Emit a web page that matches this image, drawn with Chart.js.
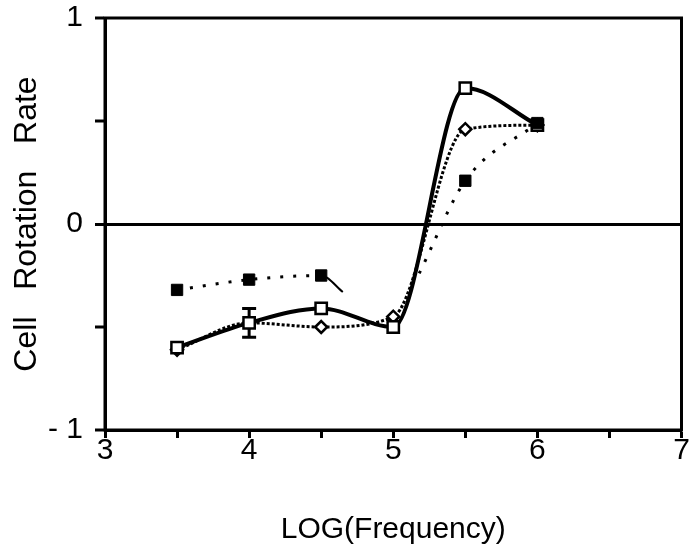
<!DOCTYPE html>
<html>
<head>
<meta charset="utf-8">
<script src="https://cdn.jsdelivr.net/npm/chart.js@4"></script>
<style>
  html, body { margin: 0; padding: 0; background: #fff; }
  #wrap { width: 692px; height: 559px; }
</style>
</head>
<body>
<div id="wrap"><canvas id="chart" width="692" height="559"></canvas></div>
<script>
// 측정 주파수 (log10)
const logFreq = [3.5, 4, 4.5, 5, 5.5, 6];

// 실선 + 빈 사각형
const rateSquare = [-0.6, -0.48, -0.41, -0.5, 0.66, 0.48];
const errSquare = [0, 0.07, 0, 0, 0, 0];

// 촘촘한 점선 + 마름모
const rateDiamond = [-0.61, -0.48, -0.5, -0.45, 0.46, 0.48];

// 성긴 점선 + 채운 사각형 (중간에 끊김)
const freqFilled = [3.5, 4, 4.5, 4.65, 4.9, 5.18, 5.5, 6];
const rateFilled = [-0.32, -0.27, -0.25, -0.33, null, -0.24, 0.21, 0.49];

// 축 눈금 라벨
const xLabels = [3, 4, 5, 6, 7];
const yLabels = [-1, 0, 1];

const toPoints = (xs, ys) => xs.map((x, i) => ({ x: x, y: ys[i] }));
const isMeasured = (c) => c.raw && logFreq.includes(c.raw.x);

// 테두리와 오차 막대
const framePlugin = {
  id: "frame",
  beforeDatasetsDraw(chart) {
    const { ctx, scales } = chart;
    ctx.save();
    ctx.strokeStyle = "#000";
    ctx.lineWidth = 3;
    logFreq.forEach((f, i) => {
      const e = errSquare[i];
      if (!e) return;
      const x = scales.x.getPixelForValue(f);
      const y1 = scales.y.getPixelForValue(rateSquare[i] + e);
      const y2 = scales.y.getPixelForValue(rateSquare[i] - e);
      ctx.beginPath();
      ctx.moveTo(x, y1);
      ctx.lineTo(x, y2);
      ctx.moveTo(x - 7, y1);
      ctx.lineTo(x + 7, y1);
      ctx.moveTo(x - 7, y2);
      ctx.lineTo(x + 7, y2);
      ctx.stroke();
    });
    ctx.restore();
  },
  afterDraw(chart) {
    const { ctx, chartArea: a } = chart;
    ctx.save();
    ctx.strokeStyle = "#000";
    ctx.lineWidth = 3;
    ctx.strokeRect(a.left, a.top, a.right - a.left, a.bottom - a.top);
    ctx.restore();
  },
};

const ctx = document.getElementById("chart").getContext("2d");

new Chart(ctx, {
  type: "line",
  data: {
    datasets: [
      {
        label: "square",
        data: toPoints(logFreq, rateSquare),
        borderColor: "#000",
        borderWidth: 4,
        pointStyle: "rect",
        pointRadius: 8,
        pointBorderWidth: 2.5,
        pointBorderColor: "#000",
        pointBackgroundColor: "#fff",
        cubicInterpolationMode: "monotone",
      },
      {
        label: "diamond",
        data: toPoints(logFreq, rateDiamond),
        borderColor: "#000",
        borderWidth: 3,
        borderDash: [3, 2],
        pointStyle: "rectRot",
        pointRadius: 6,
        pointBorderWidth: 2.5,
        pointBorderColor: "#000",
        pointBackgroundColor: "#fff",
        cubicInterpolationMode: "monotone",
      },
      {
        label: "filled",
        order: -1,
        data: toPoints(freqFilled, rateFilled),
        borderColor: "#000",
        borderWidth: 3,
        borderDash: [3, 10],
        pointStyle: "rect",
        pointRadius: (c) => (isMeasured(c) ? 8 : 0),
        pointBorderWidth: 1,
        pointBorderColor: "#000",
        pointBackgroundColor: "#000",
        cubicInterpolationMode: "monotone",
        spanGaps: false,
        segment: {
          borderDash: (c) => (c.p0.parsed.x === 4.5 ? [] : undefined),
          borderWidth: (c) => (c.p0.parsed.x === 4.5 ? 2 : undefined),
        },
      },
    ],
  },
  options: {
    responsive: false,
    animation: false,
    layout: { padding: { top: 18, right: 8, left: 0, bottom: 0 } },
    plugins: {
      legend: { display: false },
      tooltip: { enabled: false },
    },
    scales: {
      x: {
        type: "linear",
        min: 3,
        max: 7,
        afterFit: (scale) => {
          scale.height = 129;
          scale.paddingLeft = 0;
          scale.paddingRight = 0;
        },
        ticks: {
          stepSize: 0.5,
          autoSkip: false,
          maxRotation: 0,
          padding: -5,
          color: "#000",
          font: { family: "Liberation Sans, Arial, sans-serif", size: 30 },
          callback: (v) => (xLabels.includes(v) ? String(v) : ""),
        },
        grid: {
          drawOnChartArea: false,
          tickLength: 8,
          tickColor: "#000",
          tickWidth: 3,
        },
        border: { color: "#000", width: 3 },
        title: {
          display: true,
          text: "LOG(Frequency)",
          color: "#000",
          font: { family: "Liberation Sans, Arial, sans-serif", size: 30 },
          padding: { top: 0, bottom: 11 },
        },
      },
      y: {
        type: "linear",
        min: -1,
        max: 1,
        afterFit: (scale) => {
          scale.width = 105;
          scale.paddingTop = 0;
          scale.paddingBottom = 0;
        },
        ticks: {
          stepSize: 0.5,
          autoSkip: false,
          padding: 12,
          color: "#000",
          font: { family: "Liberation Sans, Arial, sans-serif", size: 30 },
          callback: (v) =>
            yLabels.includes(v) ? (v < 0 ? "- " + Math.abs(v) : String(v)) : "",
        },
        grid: {
          drawOnChartArea: true,
          color: (c) => (c.tick && c.tick.value === 0 ? "#000" : "rgba(0,0,0,0)"),
          lineWidth: (c) => (c.tick && c.tick.value === 0 ? 3 : 0),
          tickLength: 10,
          tickColor: "#000",
          tickWidth: 3,
        },
        border: { color: "#000", width: 3 },
        title: {
          display: true,
          text: "Cell   Rotation   Rate",
          color: "#000",
          font: { family: "Liberation Sans, Arial, sans-serif", size: 32 },
          padding: { top: 8, bottom: 0 },
        },
      },
    },
  },
  plugins: [framePlugin],
});
</script>
</body>
</html>
